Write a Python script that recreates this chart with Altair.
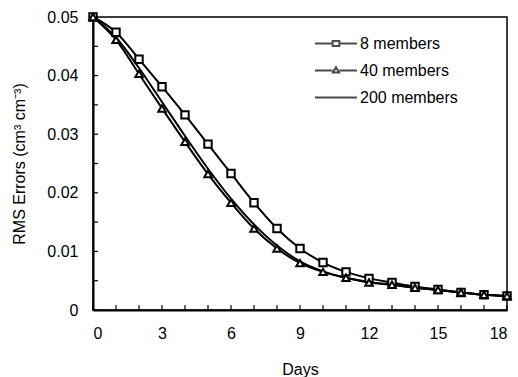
import altair as alt
import pandas as pd

days = list(range(0, 19))
series_names = ["8 members", "40 members", "200 members"]
rms_8 = [0.0500, 0.0474, 0.0428, 0.0381, 0.0333, 0.0283, 0.0233, 0.0183, 0.0139, 0.0105,
         0.0081, 0.0065, 0.0054, 0.0047, 0.0040, 0.0035, 0.0030, 0.0026, 0.0024]
rms_40 = [0.0500, 0.0461, 0.0403, 0.0344, 0.0287, 0.0232, 0.0183, 0.0139, 0.0105, 0.0080,
          0.0065, 0.0055, 0.0047, 0.0043, 0.0038, 0.0034, 0.0030, 0.0026, 0.0024]
rms_200 = [0.0500, 0.0465, 0.0413, 0.0355, 0.0297, 0.0241, 0.0190, 0.0146, 0.0110, 0.0083,
           0.0066, 0.0055, 0.0048, 0.0043, 0.0038, 0.0034, 0.0030, 0.0026, 0.0024]
x_tick_values = list(range(0, 19))
x_label_values = [0, 3, 6, 9, 12, 15, 18]
y_tick_values = [0.005 * i for i in range(11)]
y_label_values = [0, 0.01, 0.02, 0.03, 0.04, 0.05]

rows = []
for name, vals in zip(series_names, [rms_8, rms_40, rms_200]):
    for d, v in zip(days, vals):
        rows.append({"series": name, "day": d, "rms": v})
df = pd.DataFrame(rows)

W, H = 414, 293
FONT = "Liberation Sans"

xs = alt.Scale(domain=[0, 18], nice=False)
ys = alt.Scale(domain=[0, 0.05], nice=False)

x_enc = alt.X("day:Q", scale=xs, axis=alt.Axis(
    title="Days", values=x_label_values, ticks=False, grid=False,
    domainColor="black", domainWidth=2, labelFontSize=16, labelPadding=15,
    labelColor="black", titleFontSize=16, titleFontWeight="normal",
    titlePadding=20, titleColor="black", labelFont=FONT, titleFont=FONT))
y_enc = alt.Y("rms:Q", scale=ys, axis=alt.Axis(
    title="RMS Errors (cm³ cm⁻³)", values=y_label_values, ticks=False, grid=False,
    domainColor="black", domainWidth=2, labelFontSize=16, labelPadding=15,
    labelColor="black", titleFontSize=16, titleFontWeight="normal",
    titlePadding=19, titleColor="black", labelFont=FONT, titleFont=FONT,
    labelExpr="datum.value == 0 ? '0' : format(datum.value, '.2f')"))

lines = alt.Chart(df).mark_line(color="black", strokeWidth=2, interpolate="monotone").encode(
    x=x_enc, y=y_enc, detail="series:N")

points = alt.Chart(df).transform_filter(
    "datum.series != '200 members'").mark_point(
    filled=False, fill="white", fillOpacity=1, stroke="black", strokeWidth=2, size=55, opacity=1
).encode(
    x="day:Q", y="rms:Q",
    shape=alt.Shape("series:N", scale=alt.Scale(domain=["8 members", "40 members"],
                                                range=["square", "triangle-up"]), legend=None))

sq = "M-1,0H-0.16M0.16,0H1M-0.16,-0.12H0.16V0.12H-0.16Z"
tri = "M-1,0H-0.16M0.16,0H1M0,-0.16L0.15,0.1H-0.15Z"
ln = "M-1,0H1"

ghost = alt.Chart(df).transform_filter("false").mark_point(
    filled=False, stroke="black").encode(
    x="day:Q", y="rms:Q",
    shape=alt.Shape("key:N", scale=alt.Scale(domain=series_names, range=[sq, tri, ln]),
                    legend=alt.Legend(title=None, orient="none", legendX=221, legendY=13,
                                      symbolSize=1764, clipHeight=27, rowPadding=0,
                                      symbolStrokeColor="black", symbolFillColor="white",
                                      symbolStrokeWidth=2, labelFontSize=16, labelFont=FONT,
                                      labelColor="black", labelOffset=2)))

xticks = alt.Chart(pd.DataFrame({"t": x_tick_values})).mark_rule(
    color="black", strokeWidth=1.2).encode(
    x=alt.X("t:Q", scale=xs), y=alt.value(H), y2=alt.value(H - 5))
yticks = alt.Chart(pd.DataFrame({"t": y_tick_values})).mark_rule(
    color="black", strokeWidth=1.2).encode(
    y=alt.Y("t:Q", scale=ys), x=alt.value(0), x2=alt.value(5))

chart = alt.layer(xticks, yticks, lines, points, ghost).resolve_scale(
    shape="independent").properties(
    width=W, height=H,
    autosize=alt.AutoSizeParams(type="none"),
    padding={"left": 93, "top": 17, "right": 11, "bottom": 67},
    background="white"
).configure_view(stroke="black", strokeWidth=1.5)

chart.save("out.html", embed_options={"renderer": "svg", "actions": False})
